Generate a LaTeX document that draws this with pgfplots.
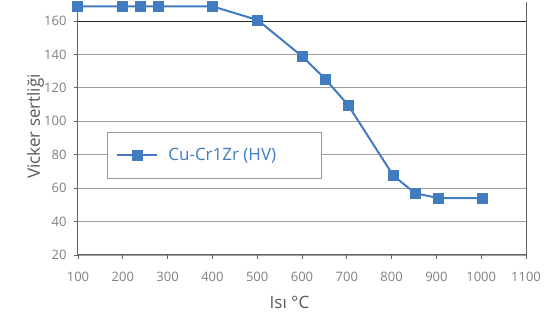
\documentclass[border=0pt]{standalone}
\usepackage{fontspec}
\setmainfont{Open Sans}
\usepackage{pgfplots}
\pgfplotsset{compat=1.18}
\definecolor{ser}{RGB}{65,124,193}
\definecolor{tk}{RGB}{128,128,128}
\definecolor{lab}{RGB}{89,89,89}
\definecolor{ax}{RGB}{100,100,100}
\begin{document}
\begin{tikzpicture}[x=1pt,y=1pt]
\useasboundingbox (-78,-63) rectangle (476,255);
\begin{axis}[
  at={(0,0)}, anchor=south west,
  scale only axis, width=448pt, height=253pt,
  xmin=100, xmax=1100, ymin=20, ymax=171.4,
  xtick={100,200,...,1100}, ytick={20,40,...,160},
  axis x line*=bottom, axis y line*=box, ytick pos=left,
  ymajorgrids, grid style={gray!75, line width=0.8pt},
  axis line style={ax, line width=1pt},
  tick style={ax, line width=0.8pt},
  tick align=outside, major tick length=4pt,
  /pgf/number format/assume math mode=true,
  /pgf/number format/1000 sep={},
  ticklabel style={font=\fontsize{13}{15}\selectfont, text=tk},
  xticklabel style={yshift=-10pt},
  yticklabel style={xshift=-4pt},
  xlabel={Isı °C}, ylabel={Vicker sertliği},
  label style={font=\fontsize{17}{20}\selectfont, text=lab},
  xlabel style={at={(axis description cs:0.472,-0.186)}, anchor=center},
  ylabel style={at={(axis description cs:-0.095,0.508)}, anchor=center},
  legend style={at={(axis description cs:0.0647,0.486)}, anchor=north west,
    draw=gray!80, line width=0.8pt, inner xsep=9pt, inner ysep=14pt,
    font=\fontsize{17}{20}\selectfont, text=ser},
  legend image code/.code={\draw[mark repeat=2,mark phase=2,#1] plot coordinates {(0pt,0pt) (20pt,0pt) (40pt,0pt)};},
]
\draw[black!85, line width=0.8pt] (axis cs:100,160) -- (axis cs:1100,160);
\addplot[color=ser, line width=2pt, mark=square*, mark size=5pt, mark options={fill=ser, draw=ser, line width=0pt}]
coordinates {(100,168.8) (200,168.8) (240,168.8) (280,168.8) (400,168.8) (501,160.6) (602,138.5) (652,125.3) (703,109.7) (804,67.4) (853,56.9) (904,54.1) (1004,54.1)};
\addlegendentry{\makebox[150pt][l]{\hspace{8pt}Cu-Cr1Zr (HV)}}
\end{axis}
\end{tikzpicture}
\end{document}
